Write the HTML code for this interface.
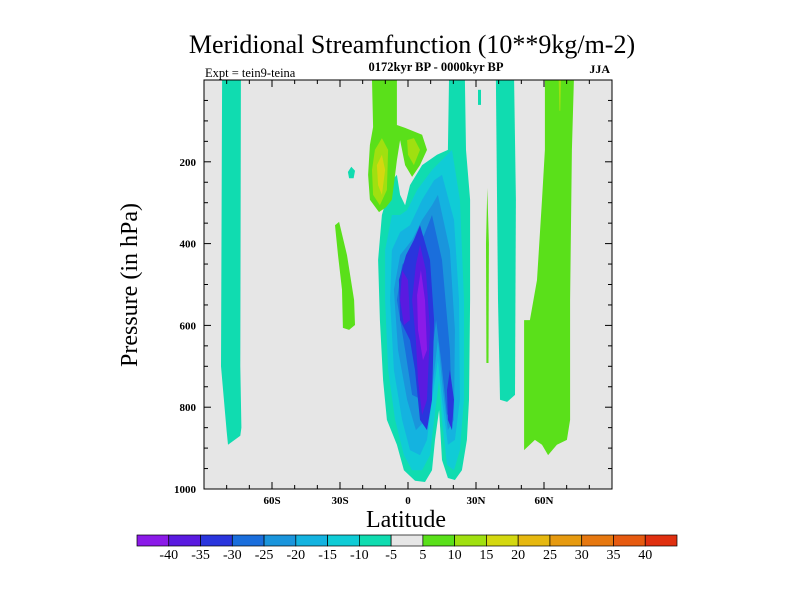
<!DOCTYPE html>
<html><head><meta charset="utf-8"><style>
html,body{margin:0;padding:0;background:#fff;}
svg text{font-family:"Liberation Serif",serif;fill:#000;}
</style></head><body>
<svg id="chart" width="800" height="600" viewBox="0 0 800 600">
<text x="412" y="53" font-size="26" text-anchor="middle">Meridional Streamfunction (10**9kg/m-2)</text>
<text x="436" y="71" font-size="12.5" font-weight="bold" text-anchor="middle">0172kyr BP - 0000kyr BP</text>
<text x="205" y="77" font-size="12.5">Expt = tein9-teina</text>
<text x="610" y="73" font-size="12" font-weight="bold" text-anchor="end">JJA</text>
<text transform="translate(137,285) rotate(-90)" font-size="24" text-anchor="middle">Pressure (in hPa)</text>
<text x="406" y="527" font-size="24" text-anchor="middle">Latitude</text>
<g id="plot"></g>
<g id="axes"></g>
<g id="cbar"></g>
</svg>
<script>
const levels = [-40,-35,-30,-25,-20,-15,-10,-5,5,10,15,20,25,30,35,40];
const cbLabels = ["-40","-35","-30","-25","-20","-15","-10","-5","5","10","15","20","25","30","35","40"];
const colors = ["#8B1AE8","#5A1AE0","#2A35DD","#1A6EDC","#1A95DC","#14B3E0","#10CCD6","#10DCB0","#E6E6E6","#5AE01A","#A0E010","#D4D810","#E6B810","#E69A10","#E67810","#E65A10","#E03010"];
const xTickLats = [-60,-30,0,30,60];
const xTickLabels = ["60S","30S","0","30N","60N"];
const yTickVals = [200,400,600,800,1000];
const regionBands = [7,7,6,5,4,3,2,2,1,1,0,9,10,11,9,7,9,7,9,7,10,10];
const regionNames = ["left-band","main-cyan","main-15","main-20","main-25","main-30","main-35","main-35-right","main-40","main-40-left","main-45","green-top","green-top-inner","yellow-core","green-tail","cyan-dot","green-line","cyan-band","green-band","cyan-dot-right","green-right-lobe","yellowgreen-line"];
const regionPts = [
 [[-82,0],[-73.7,0],[-74,700],[-73.5,850],[-74,870],[-79.4,892],[-80,860],[-82.5,700]],
 [[18.1,0],[25.1,0],[25.6,171],[27.4,293],[27.4,538],[26.9,782],[26,880],[23.8,954],[20.7,978],[17.6,973],[15,929],[13.7,807],[11.9,880],[10.6,954],[7.5,983],[3.1,980],[-1.8,954],[-4.9,892],[-9.3,831],[-11,734],[-12.4,587],[-13.2,440],[-11.5,330],[-7.1,245],[-4.9,232],[-3.5,281],[-1.3,306],[0.9,257],[6.2,208],[12.8,183],[17.6,171]],
 [[19.4,171],[22.9,293],[24.7,538],[24.7,782],[22.9,905],[20.3,954],[17.2,941],[15,831],[13.7,734],[11.5,831],[9.7,917],[6.2,954],[1.8,954],[-1.8,917],[-5.7,831],[-8.8,709],[-10.1,538],[-10.1,416],[-7.1,330],[-3.5,330],[-0.4,318],[4,269],[10.6,220],[17.2,183]],
 [[15,232],[20.3,342],[22.5,538],[22.9,782],[20.7,880],[17.6,892],[15,782],[13.2,685],[10.6,782],[8.4,880],[5.3,917],[0.9,905],[-2.6,831],[-6.2,709],[-7.9,538],[-7.1,416],[-3.5,372],[0.9,355],[6.2,293],[11.5,245]],
 [[13.2,281],[18.5,416],[20.7,611],[20.3,831],[17.6,856],[15.4,758],[13.2,636],[10.6,758],[7.9,831],[3.5,856],[-0.4,782],[-4.4,660],[-6.2,513],[-3.5,428],[1.8,391],[6.2,342],[10.6,306]],
 [[10.6,330],[15,440],[18.5,660],[19.4,807],[17.2,819],[14.6,685],[12.4,587],[9.7,709],[6.2,782],[1.8,770],[-1.3,660],[-4.9,538],[-2.6,452],[2.6,416],[7.1,379]],
 [[5.3,355],[9.7,440],[11.5,587],[10.6,782],[8.4,856],[5.3,831],[3.1,709],[0.9,636],[-3.5,587],[-4,489],[-0.9,428],[2.6,391]],
 [[18.5,709],[20.3,782],[19.4,856],[17.6,831],[17.2,758]],
 [[5.3,403],[7.9,465],[9.7,611],[8.4,782],[6.2,819],[4.4,734],[3.5,636],[1.8,538],[3.5,452]],
 [[-2.6,465],[0,489],[0.9,587],[-1.8,599],[-3.5,538]],
 [[5.7,465],[7.5,538],[8.4,660],[6.6,685],[4.4,611],[4,526]],
 [[-15.9,0],[-4.9,0],[-4.9,110],[-1.3,117],[6.2,134],[8.4,171],[5.3,208],[1.8,237],[-1.3,208],[-3.5,147],[-4.9,196],[-5.7,232],[-7.1,293],[-9.7,311],[-12.8,323],[-16.8,293],[-17.6,232],[-16.8,159],[-15.4,115]],
 [[-14.6,171],[-11.5,142],[-8.8,171],[-9.3,269],[-12.4,306],[-15.4,281],[-15.9,220]],
 [[-13.7,208],[-11.5,183],[-10.1,220],[-11.5,281],[-13.2,257]],
 [[-32.2,355],[-30.4,347],[-26.9,428],[-23.8,538],[-23.4,599],[-26,611],[-28.7,606],[-29.1,513],[-30.9,428]],
 [[-26.5,225],[-25,212],[-23.4,222],[-24,240],[-26,240]],
 [[35,264],[35.7,400],[35.5,692],[34.6,692],[34.4,400]],
 [[38.8,0],[46.8,0],[47.6,293],[47.2,770],[43.7,787],[40.6,782],[39.7,538]],
 [[60.4,0],[73.2,0],[72.3,171],[71.5,538],[71.5,831],[70.1,880],[65.7,892],[61.8,917],[59.1,892],[56,880],[51.2,905],[51.2,587],[53.8,587],[56.9,489],[59.1,293],[60.4,171]],
 [[30.9,24],[32.2,24],[32.2,61],[30.9,61]],
 [[-0.4,147],[2.6,142],[5.3,171],[2.6,208],[0,183]],
 [[66.5,0],[67.5,0],[67.2,75],[66.8,75]]
];
const L=204,R=612,T=80,B=489;
const X = lat => L + (lat+90)/180*(R-L);
const Y = p => T + p/1000*(B-T);
const NS="http://www.w3.org/2000/svg";
function mk(tag, parent){const e=document.createElementNS(NS,tag);parent.appendChild(e);return e;}
const plot=document.getElementById('plot'), axes=document.getElementById('axes'), cbar=document.getElementById('cbar');
const bg=mk('rect',plot);


bg.setAttribute('x',L);bg.setAttribute('y',T);bg.setAttribute('width',R-L);bg.setAttribute('height',B-T);bg.setAttribute('fill',colors[8]);
regionPts.forEach((pts,i)=>{
  const pg=mk('polygon',plot);
  
  
  pg.setAttribute('points',pts.map(d=>X(d[0]).toFixed(1)+','+Y(d[1]).toFixed(1)).join(' '));
  pg.setAttribute('fill',colors[regionBands[i]]);
});
const fr=mk('rect',axes);


fr.setAttribute('x',L);fr.setAttribute('y',T);fr.setAttribute('width',R-L);fr.setAttribute('height',B-T);fr.setAttribute('fill','none');fr.setAttribute('stroke','#000');fr.setAttribute('stroke-width','1');
function tick(x1,y1,x2,y2){const t=mk('line',axes);
  
  
  t.setAttribute('x1',x1);t.setAttribute('y1',y1);t.setAttribute('x2',x2);t.setAttribute('y2',y2);t.setAttribute('stroke','#000');}
for(let lat=-80;lat<=80;lat+=10){const major=lat%30===0;const len=major?7:4;const x=X(lat);tick(x,B,x,B-len);tick(x,T,x,T+len);}
for(let p=50;p<1000;p+=50){const major=p%200===0;const len=major?7:4;const y=Y(p);tick(L,y,L+len,y);tick(R,y,R-len,y);}
xTickLats.forEach((lat,i)=>{const t=mk('text',axes);
  
  
  t.setAttribute('x',X(lat));t.setAttribute('y',B+15);t.setAttribute('font-size','11');t.setAttribute('font-weight','bold');t.setAttribute('text-anchor','middle');t.textContent=xTickLabels[i];});
yTickVals.forEach(v=>{const t=mk('text',axes);
  
  
  t.setAttribute('x',L-8);t.setAttribute('y',Y(v)+4);t.setAttribute('font-size','11');t.setAttribute('font-weight','bold');t.setAttribute('text-anchor','end');t.textContent=v;});
const cbL=137,cbR=677,cbT=535,cbH=11;
const cbW=(cbR-cbL)/colors.length;
colors.forEach((c,i)=>{const r=mk('rect',cbar);
  
  
  r.setAttribute('x',cbL+i*cbW);r.setAttribute('y',cbT);r.setAttribute('width',cbW);r.setAttribute('height',cbH);r.setAttribute('fill',c);r.setAttribute('stroke','#000');r.setAttribute('stroke-width','0.7');});
levels.forEach((v,i)=>{const t=mk('text',cbar);
  
  
  t.setAttribute('x',cbL+(i+1)*cbW);t.setAttribute('y',cbT+cbH+13);t.setAttribute('font-size','14');t.setAttribute('text-anchor','middle');t.textContent=cbLabels[i];});
</script>
</body></html>
